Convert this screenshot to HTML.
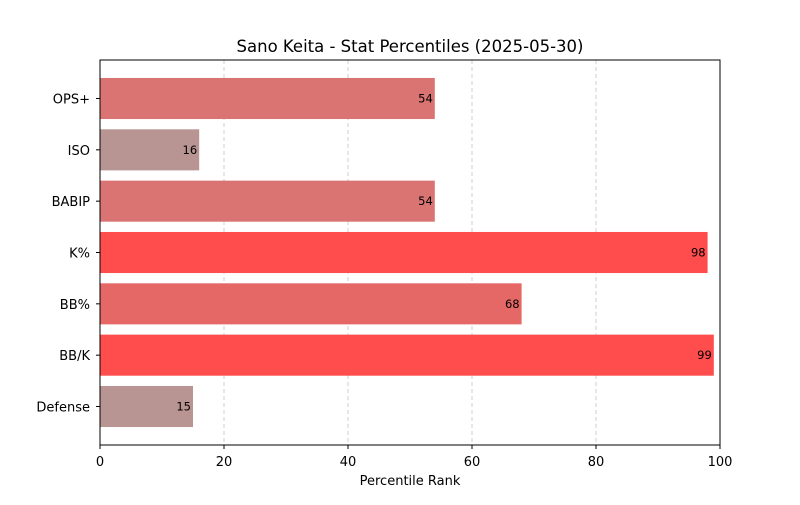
<!DOCTYPE html>
<html><head><meta charset="utf-8"><style>
body{margin:0;background:#fff;font-family:"Liberation Sans","DejaVu Sans",sans-serif}
</style></head><body>
<svg id="chart" width="800" height="500" xmlns="http://www.w3.org/2000/svg" font-family="'DejaVu Sans','Liberation Sans',sans-serif"></svg>
<script>
const categories=["OPS+","ISO","BABIP","K%","BB%","BB/K","Defense"];
const values=[54,16,54,98,68,99,15];
const xTicks=[0,20,40,60,80,100];
const L=100,R=720,T=60,B=445;
const svg=document.getElementById('chart');
const NS='http://www.w3.org/2000/svg';
function x(v){return L+(v/100)*(R-L);}
const step=(B-T)/7.5;
function yc(i){return T+step*0.75+i*step;}
function color(v){
  let t=Math.max(0,Math.min(1,(v-16)/(98-16)));
  const a=[184,149,146],b=[255,77,77];
  return 'rgb('+a.map((c,k)=>Math.round(c+(b[k]-c)*t)).join(',')+')';
}
function mk(tag,attrs,txt){const e=document.createElementNS(NS,tag);for(const k in attrs)e.setAttribute(k,attrs[k]);if(txt!=null)e.textContent=txt;svg.appendChild(e);return e;}
xTicks.forEach(t=>{
  if(t>0&&t<100){const g=mk('line',{x1:x(t),x2:x(t),y1:T,y2:B,stroke:'#c4c4c4','stroke-dasharray':'4,3','stroke-width':0.8});
  
  }
  mk('line',{x1:x(t),x2:x(t),y1:B,y2:B+4,stroke:'#000'});
  const tl=mk('text',{x:x(t),y:B+21,'text-anchor':'middle','font-size':13},t);
  
  
});
categories.forEach((c,i)=>{
  const h=step*0.8,y=yc(i);
  const r=mk('rect',{x:L,y:y-h/2,width:x(values[i])-L,height:h,fill:color(values[i])});
  
  
  const v=mk('text',{x:x(values[i])-2,y:y+4,'text-anchor':'end','font-size':11.5},values[i]);
  
  
  mk('line',{x1:L-4,x2:L,y1:y,y2:y,stroke:'#000'});
  const cl=mk('text',{x:L-10,y:y+5,'text-anchor':'end','font-size':13},c);
  
  
});
const f=mk('rect',{x:L,y:T,width:R-L,height:B-T,fill:'none',stroke:'#000','stroke-width':1});


const ti=mk('text',{x:410,y:52,'text-anchor':'middle','font-size':16.5},'Sano Keita - Stat Percentiles (2025-05-30)');


const xl=mk('text',{x:410,y:485,'text-anchor':'middle','font-size':13},'Percentile Rank');


</script>
</body></html>
